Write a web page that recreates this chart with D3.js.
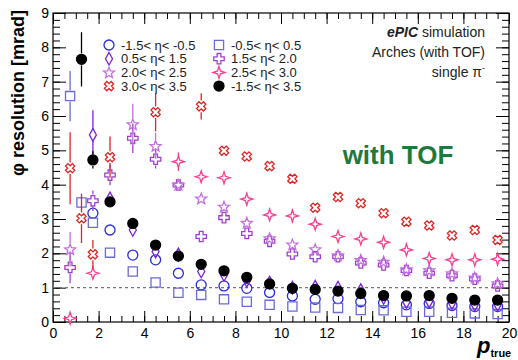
<!DOCTYPE html>
<html>
<head>
<meta charset="utf-8">
<script src="https://cdn.jsdelivr.net/npm/d3@7"></script>
<style>
  body { margin: 0; background: #fff; }
  svg { font-family: 'Liberation Sans', Arial, sans-serif; }
</style>
</head>
<body>
<svg id="chart" width="518" height="360"></svg>
<script>
// bin centres in p_true (GeV)
const pBins = [0.75, 1.25, 1.75, 2.5, 3.5, 4.5, 5.5, 6.5, 7.5, 8.5, 9.5, 10.5, 11.5, 12.5, 13.5, 14.5, 15.5, 16.5, 17.5, 18.5, 19.5];

// phi resolution [mrad] per eta slice (null = no point)
const etaM15M05 = [null, null, 3.17, 2.68, 1.95, 1.81, 1.42, 1.08, 1.05, 0.98, 0.86, 0.76, 0.66, 0.68, 0.59, 0.56, 0.5, 0.54, 0.48, 0.45, 0.45];
const etaM15M05Err = [0, 0, 0.15, 0.08, 0.05, 0.05, 0.04, 0.04, 0.03, 0.03, 0.03, 0.03, 0.02, 0.02, 0.02, 0.02, 0.02, 0.02, 0.02, 0.02, 0.02];
const etaM05P05 = [6.58, 3.48, 2.89, 2.02, 1.47, 1.15, 0.85, 0.79, 0.66, 0.59, 0.5, 0.45, 0.42, 0.41, 0.35, 0.34, 0.3, 0.3, 0.27, 0.25, 0.23];
const etaM05P05Err = [0.73, 0.15, 0.1, 0.06, 0.05, 0.04, 0.03, 0.03, 0.02, 0.02, 0.02, 0.02, 0.02, 0.02, 0.02, 0.02, 0.02, 0.02, 0.02, 0.02, 0.02];
const eta05P15 = [null, null, 5.45, 3.6, 2.68, 2.05, 1.97, 1.47, 1.37, 1.2, 1.15, 1.0, 1.03, 1.0, 0.93, 0.7, 0.58, 0.6, 0.55, 0.5, 0.5];
const eta05P15Err = [0, 0, 0.72, 0.15, 0.08, 0.06, 0.05, 0.04, 0.04, 0.03, 0.03, 0.03, 0.03, 0.03, 0.03, 0.02, 0.02, 0.02, 0.02, 0.02, 0.02];
const eta15P20 = [1.59, null, 3.53, 4.28, 5.35, 4.74, 3.99, 2.49, 3.04, 2.58, 2.35, 1.98, 1.9, 1.9, 1.72, 1.66, 1.5, 1.42, 1.35, 1.25, 1.05];
const eta15P20Err = [0.46, 0, 0.3, 0.3, 0.43, 0.27, 0.12, 0.08, 0.08, 0.06, 0.05, 0.05, 0.05, 0.04, 0.04, 0.04, 0.04, 0.04, 0.04, 0.04, 0.04];
const eta20P25 = [2.12, null, null, null, 5.76, 5.13, 4.0, 3.6, 3.36, 2.89, 2.44, 2.26, 2.12, 1.95, 1.81, 1.76, 1.54, 1.51, 1.42, 1.3, 1.13];
const eta20P25Err = [0.5, 0, 0, 0, 0.6, 0.38, 0.12, 0.1, 0.08, 0.06, 0.05, 0.05, 0.05, 0.05, 0.04, 0.04, 0.04, 0.04, 0.04, 0.04, 0.04];
const eta25P30 = [0.11, null, 1.42, null, null, null, 4.67, 4.23, 4.2, 3.58, 3.12, 3.09, 2.85, 2.49, 2.42, 2.32, 2.1, 1.85, 1.81, 1.81, 1.83];
const eta25P30Err = [0.05, 0, 0.18, 0, 0, 0, 0.27, 0.12, 0.1, 0.08, 0.06, 0.06, 0.05, 0.05, 0.05, 0.05, 0.05, 0.04, 0.04, 0.04, 0.04];
const eta30P35 = [4.48, 3.02, 1.97, 4.8, null, 6.11, null, 6.28, 4.99, 4.82, 4.54, 4.17, 3.33, 3.64, 3.46, 3.17, 2.92, 2.81, 2.52, 2.68, 2.39];
const eta30P35Err = [1.05, 0.72, 0.42, 0.6, 0, 0.56, 0, 0.38, 0.12, 0.1, 0.08, 0.08, 0.07, 0.07, 0.06, 0.06, 0.06, 0.05, 0.05, 0.05, 0.05];
const etaAll = [null, 7.65, 4.72, 3.5, 2.87, 2.24, 1.92, 1.68, 1.49, 1.3, 1.11, 0.98, 0.95, 0.9, 0.83, 0.77, 0.76, 0.77, 0.69, 0.64, 0.64];
const etaAllErr = [0, 0.79, 0.25, 0.1, 0.06, 0.05, 0.04, 0.03, 0.03, 0.03, 0.02, 0.02, 0.02, 0.02, 0.02, 0.02, 0.02, 0.02, 0.02, 0.02, 0.02];

const xTicks = [0, 2, 4, 6, 8, 10, 12, 14, 16, 18, 20];
const yTicks = [0, 1, 2, 3, 4, 5, 6, 7, 8, 9];

// marker paths, s = half size
const circlePath = (s) => `M${s},0A${s},${s} 0 1,1 ${-s},0A${s},${s} 0 1,1 ${s},0Z`;
const squarePath = (s) => `M${-s},${-s}H${s}V${s}H${-s}Z`;
const diamondPath = (s) => `M0,${-s * 1.25}L${s * 0.7},0L0,${s * 1.25}L${-s * 0.7},0Z`;
const crossPath = (s) => {
  const a = s * 0.36;
  return `M${-a},${-s}H${a}V${-a}H${s}V${a}H${a}V${s}H${-a}V${a}H${-s}V${-a}H${-a}Z`;
};
const starPath = (s) => {
  const pts = [];
  for (let i = 0; i < 10; i += 1) {
    const r = i % 2 === 0 ? s * 1.15 : s * 0.5;
    const ang = (Math.PI / 5) * i - Math.PI / 2;
    pts.push([r * Math.cos(ang), r * Math.sin(ang) + s * 0.1]);
  }
  return `M${pts.map((p) => p.join(',')).join('L')}Z`;
};
const star4Path = (s) => {
  const a = s * 0.28;
  return `M0,${-s * 1.15}L${a},${-a}L${s * 1.15},0L${a},${a}L0,${s * 1.15}L${-a},${a}L${-s * 1.15},0L${-a},${-a}Z`;
};
// rounded four-lobe cross (ROOT open "X" marker)
const lobePath = (s) => {
  const a = s * 0.38;
  return `M${-a},${-a}L${-s * 0.7},${-s}L${-s},${-s * 0.7}L${-a},${-a}`
    + `M${-a},${-a}Q0,${-s * 0.4} ${a},${-a}L${s * 0.7},${-s}L${s},${-s * 0.7}L${a},${-a}`
    + `Q${s * 0.4},0 ${a},${a}L${s},${s * 0.7}L${s * 0.7},${s}L${a},${a}`
    + `Q0,${s * 0.4} ${-a},${a}L${-s * 0.7},${s}L${-s},${s * 0.7}L${-a},${a}`
    + `Q${-s * 0.4},0 ${-a},${-a}Z`;
};

const series = [
  { label: '-1.5< η< -0.5', values: etaM15M05, errors: etaM15M05Err, color: '#2a2ae0', path: circlePath, size: 5, fill: 'none' },
  { label: '-0.5< η< 0.5', values: etaM05P05, errors: etaM05P05Err, color: '#6b6bd8', path: squarePath, size: 4.6, fill: 'none' },
  { label: '0.5< η< 1.5', values: eta05P15, errors: eta05P15Err, color: '#7a22e0', path: diamondPath, size: 5, fill: 'none' },
  { label: '1.5< η< 2.0', values: eta15P20, errors: eta15P20Err, color: '#a040d0', path: crossPath, size: 5.2, fill: 'none' },
  { label: '2.0< η< 2.5', values: eta20P25, errors: eta20P25Err, color: '#c46fe0', path: starPath, size: 5, fill: 'none' },
  { label: '2.5< η< 3.0', values: eta25P30, errors: eta25P30Err, color: '#ff3d8e', path: star4Path, size: 5.2, fill: 'none' },
  { label: '3.0< η< 3.5', values: eta30P35, errors: eta30P35Err, color: '#e02424', path: crossPath, size: 4.8, fill: 'none', rotate: 45 },
  { label: '-1.5< η< 3.5', values: etaAll, errors: etaAllErr, color: '#000000', path: circlePath, size: 5, fill: '#000000' },
];

const svg = d3.select('#chart');
const frame = { left: 53, right: 509, top: 13, bottom: 322 };

const x = d3.scaleLinear().domain([0, 20]).range([frame.left, frame.right]);
const y = d3.scaleLinear().domain([0, 9]).range([frame.bottom, frame.top]);

svg.append('rect').attr('width', 518).attr('height', 360).attr('fill', '#fff');

// ticks (ROOT style: inside the frame, on all four sides)
const minorX = d3.range(0, 20.01, 0.5);
const minorY = d3.range(0, 9.01, 0.2);
const tickStyle = (sel) => {
  sel.select('.domain').remove();
  sel.selectAll('line').attr('stroke', '#000');
};

svg.append('g').attr('transform', `translate(0,${frame.bottom})`)
  .call(d3.axisBottom(x).tickValues(minorX).tickSize(-6).tickFormat(''))
  .call(tickStyle);
svg.append('g').attr('transform', `translate(0,${frame.top})`)
  .call(d3.axisTop(x).tickValues(minorX).tickSize(-6).tickFormat(''))
  .call(tickStyle);
svg.append('g').attr('transform', `translate(0,${frame.top})`)
  .call(d3.axisTop(x).tickValues(xTicks).tickSize(-11).tickFormat(''))
  .call(tickStyle);
const xAxis = svg.append('g').attr('transform', `translate(0,${frame.bottom})`)
  .call(d3.axisBottom(x).tickValues(xTicks).tickSize(-11).tickPadding(6).tickFormat(d3.format('d')))
  .call(tickStyle);
xAxis.selectAll('text').attr('font-size', 14).attr('font-family', 'Liberation Sans, Arial, sans-serif').attr('fill', '#000');

svg.append('g').attr('transform', `translate(${frame.left},0)`)
  .call(d3.axisLeft(y).tickValues(minorY).tickSize(-7).tickFormat(''))
  .call(tickStyle);
svg.append('g').attr('transform', `translate(${frame.right},0)`)
  .call(d3.axisRight(y).tickValues(minorY).tickSize(-7).tickFormat(''))
  .call(tickStyle);
svg.append('g').attr('transform', `translate(${frame.right},0)`)
  .call(d3.axisRight(y).tickValues(yTicks).tickSize(-13).tickFormat(''))
  .call(tickStyle);
const yAxis = svg.append('g').attr('transform', `translate(${frame.left},0)`)
  .call(d3.axisLeft(y).tickValues(yTicks).tickSize(-13).tickPadding(4).tickFormat(d3.format('d')))
  .call(tickStyle);
yAxis.selectAll('text').attr('font-size', 14).attr('font-family', 'Liberation Sans, Arial, sans-serif').attr('fill', '#000');

// frame
svg.append('rect')
  .attr('x', frame.left).attr('y', frame.top)
  .attr('width', frame.right - frame.left).attr('height', frame.bottom - frame.top)
  .attr('fill', 'none').attr('stroke', '#000').attr('stroke-width', 1.2);

// reference line at 1 mrad
svg.append('line')
  .attr('x1', x(0)).attr('x2', x(20))
  .attr('y1', y(1)).attr('y2', y(1))
  .attr('stroke', '#777').attr('stroke-width', 1.2).attr('stroke-dasharray', '3,3');

// data
series.forEach((s) => {
  const pts = pBins.map((p, i) => ({ p, v: s.values[i], e: s.errors[i] })).filter((d) => d.v !== null);
  const g = svg.append('g');
  const half = s.size + 1;
  pts.filter((d) => d.e > 0).forEach((d) => {
    const top = y(d.v + d.e);
    const bot = y(d.v - d.e);
    if (y(d.v) - half > top) {
      g.append('line').attr('x1', x(d.p)).attr('x2', x(d.p))
        .attr('y1', top).attr('y2', y(d.v) - half)
        .attr('stroke', s.color).attr('stroke-width', 1.3);
    }
    if (bot > y(d.v) + half) {
      g.append('line').attr('x1', x(d.p)).attr('x2', x(d.p))
        .attr('y1', y(d.v) + half).attr('y2', bot)
        .attr('stroke', s.color).attr('stroke-width', 1.3);
    }
  });
  g.selectAll('path')
    .data(pts)
    .enter()
    .append('path')
    .attr('d', s.path(s.size))
    .attr('transform', (d) => `translate(${x(d.p)},${y(d.v)})${s.rotate ? ` rotate(${s.rotate})` : ''}`)
    .attr('fill', s.fill)
    .attr('stroke', s.color)
    .attr('stroke-width', 1.3);
});

// legend, two columns
const legend = svg.append('g');
series.forEach((s, i) => {
  const col = i % 2;
  const row = Math.floor(i / 2);
  const lx = col === 0 ? 109 : 219;
  const ly = 45 + row * 13.7;
  legend.append('path')
    .attr('d', s.path(s.size))
    .attr('transform', `translate(${lx},${ly})${s.rotate ? ` rotate(${s.rotate})` : ''}`)
    .attr('fill', s.fill)
    .attr('stroke', s.color)
    .attr('stroke-width', 1.3);
  legend.append('text')
    .attr('x', lx + 12)
    .attr('y', ly + 4.5)
    .attr('font-size', 13)
    .attr('fill', '#222')
    .text(s.label);
});

// header text
const header = svg.append('g').attr('font-size', 14).attr('text-anchor', 'end').attr('fill', '#222');
const h1 = header.append('text').attr('x', 485).attr('y', 37);
h1.append('tspan').attr('font-weight', 'bold').attr('font-style', 'italic').text('ePIC');
h1.append('tspan').text(' simulation');
header.append('text').attr('x', 485).attr('y', 57).text('Arches (with TOF)');
const h3 = header.append('text').attr('x', 485).attr('y', 77);
h3.append('tspan').text('single π');
h3.append('tspan').attr('font-size', 9).attr('dy', -6).text('-');

svg.append('text')
  .attr('x', 398).attr('y', 164)
  .attr('text-anchor', 'middle')
  .attr('font-size', 26)
  .attr('font-weight', 'bold')
  .attr('fill', '#1d7a3c')
  .text('with TOF');

// axis titles
svg.append('text')
  .attr('transform', 'translate(24,10) rotate(-90)')
  .attr('text-anchor', 'end')
  .attr('font-size', 18)
  .attr('font-weight', 'bold')
  .attr('fill', '#000')
  .text('φ resolution [mrad]');

const xt = svg.append('text').attr('x', 477).attr('y', 353).attr('fill', '#000').attr('font-weight', 'bold');
xt.append('tspan').attr('font-size', 22).attr('font-style', 'italic').text('p');
xt.append('tspan').attr('font-size', 11).attr('dy', 4).text('true');
</script>
</body>
</html>
